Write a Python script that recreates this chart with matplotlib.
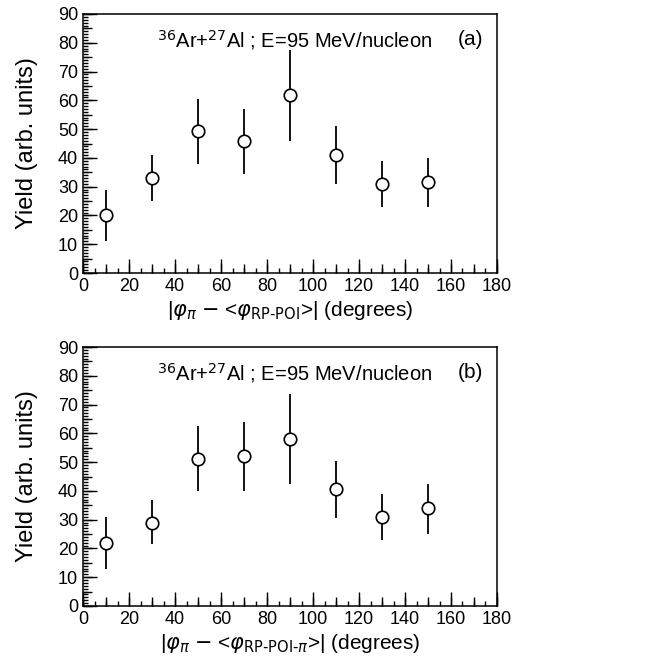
import matplotlib
matplotlib.use("Agg")
import matplotlib.pyplot as plt
import numpy as np
from matplotlib.ticker import MultipleLocator, NullFormatter, NullLocator

plt.rcParams['font.family'] = ['Liberation Sans', 'DejaVu Sans']
plt.rcParams['mathtext.fontset'] = 'dejavusans'

# Data
phi = [10, 30, 50, 70, 90, 110, 130, 150]

yield_a = [20, 33, 49.5, 46, 62, 41, 31, 31.5]
low_a = [11, 25, 38, 34.5, 46, 31, 23, 23]
high_a = [29, 41, 60.5, 57, 77.5, 51, 39, 40]

yield_b = [22, 29, 51, 52, 58, 40.5, 31, 34]
low_b = [13, 21.5, 40, 40, 42.5, 30.5, 23, 25]
high_b = [31, 37, 62.5, 64, 73.5, 50.5, 39, 42.5]

xlabels = [r'|$\varphi_{\pi}$ $-$ <$\varphi_{\mathrm{RP\text{-}POI}}$>| (degrees)',
           r'|$\varphi_{\pi}$ $-$ <$\varphi_{\mathrm{RP\text{-}POI\text{-}}\pi}$>| (degrees)']
tags = ['(a)', '(b)']

fig = plt.figure(figsize=(6.56, 6.63), dpi=100)
W, H = 656, 663
boxes = [(83, 14, 497, 273), (83, 347, 497, 606)]

series = [(yield_a, low_a, high_a), (yield_b, low_b, high_b)]

for (x0, y0, x1, y1), (y, lo, hi), xl, tag in zip(boxes, series, xlabels, tags):
    rect = [x0 / W, 1 - y1 / H, (x1 - x0) / W, (y1 - y0) / H]

    # medium-length ticks (every 10 on x, every 5 on y), drawn underneath
    axm = fig.add_axes(rect, frameon=False)
    axm.set_xlim(0, 180)
    axm.set_ylim(0, 90)
    axm.xaxis.set_major_locator(MultipleLocator(10))
    axm.yaxis.set_major_locator(MultipleLocator(5))
    axm.xaxis.set_minor_locator(NullLocator())
    axm.yaxis.set_minor_locator(NullLocator())
    axm.xaxis.set_major_formatter(NullFormatter())
    axm.yaxis.set_major_formatter(NullFormatter())
    axm.tick_params(which='major', direction='in', length=6.5, width=1,
                    top=False, right=False)

    ax = fig.add_axes(rect)
    ax.patch.set_visible(False)
    y = np.array(y)
    err = [y - np.array(lo), np.array(hi) - y]
    ax.errorbar(phi, y, yerr=err, fmt='o', mfc='white', mec='black',
                ecolor='black', elinewidth=1.3, capsize=0, ms=9, mew=1.2,
                zorder=3)
    ax.set_xlim(0, 180)
    ax.set_ylim(0, 90)
    ax.xaxis.set_major_locator(MultipleLocator(20))
    ax.xaxis.set_minor_locator(MultipleLocator(5))
    ax.yaxis.set_major_locator(MultipleLocator(10))
    ax.yaxis.set_minor_locator(MultipleLocator(1))
    ax.tick_params(which='both', direction='in', top=False, right=False,
                   labelsize=13, width=1)
    ax.tick_params(which='major', length=10)
    ax.tick_params(which='minor', length=3.5)

    ax.set_ylabel('Yield (arb. units)', fontsize=17, labelpad=14)
    ax.set_xlabel(xl, fontsize=15, labelpad=3)
    ax.text(0.51, 0.9, r'$^{36}$Ar+$^{27}$Al ; E=95 MeV/nucleon',
            transform=ax.transAxes, ha='center', va='center', fontsize=14.5)
    ax.text(0.935, 0.9, tag, transform=ax.transAxes, ha='center',
            va='center', fontsize=15)
    for s in ax.spines.values():
        s.set_linewidth(1.1)

fig.savefig('out.png', dpi=100)
